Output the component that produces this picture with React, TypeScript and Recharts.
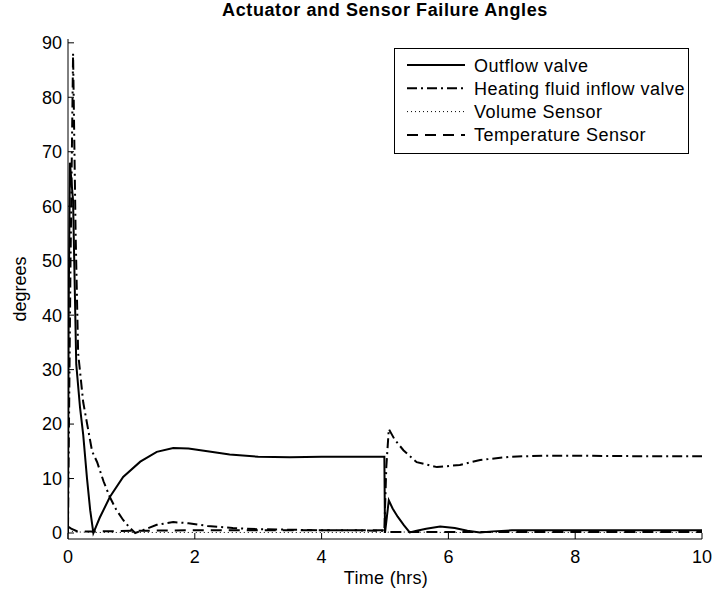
import { LineChart, Line, XAxis, YAxis } from "recharts";

// time (hrs) and angle (degrees) per series
const outflowT = [0, 0.01, 0.03, 0.08, 0.13, 0.19, 0.24, 0.3, 0.35, 0.4, 0.5, 0.66, 0.87, 1.14, 1.4, 1.66, 1.9, 2.2, 2.55, 3.0, 3.5, 4.0, 4.5, 4.99, 5.0, 5.03, 5.06, 5.12, 5.2, 5.3, 5.39, 5.5, 5.65, 5.87, 6.1, 6.3, 6.5, 6.7, 7.0, 7.5, 8, 9, 10];
const outflowV = [0, 40, 68, 61, 31, 23, 18, 10, 4.2, 0, 2.8, 6.6, 10.3, 13.1, 14.9, 15.6, 15.5, 15.0, 14.4, 14.0, 13.9, 14.0, 14.0, 14.0, 0, 3, 6.0, 4.5, 3.0, 1.4, 0.1, 0.4, 0.8, 1.2, 0.9, 0.4, 0.1, 0.3, 0.5, 0.5, 0.5, 0.5, 0.5];

const heatingT = [0, 0.04, 0.08, 0.12, 0.16, 0.24, 0.38, 0.46, 0.56, 0.66, 0.76, 0.87, 0.97, 1.06, 1.2, 1.4, 1.66, 1.9, 2.2, 2.6, 3.0, 3.5, 4.0, 4.5, 4.99, 5.02, 5.06, 5.15, 5.29, 5.5, 5.82, 6.18, 6.5, 6.97, 7.5, 8, 9, 10];
const heatingV = [1, 50, 88, 55, 33, 24, 15, 13, 9.5, 6.6, 4.3, 2.4, 1.0, 0, 0.6, 1.5, 2.0, 1.8, 1.3, 0.9, 0.7, 0.6, 0.5, 0.5, 0.4, 12, 19.1, 17.2, 15.2, 13.0, 12.1, 12.5, 13.4, 14.0, 14.2, 14.2, 14.1, 14.1];

const volumeT = [0, 0.1, 0.5, 1, 2, 3, 4, 5, 5.1, 6, 7, 8, 9, 10];
const volumeV = [0.5, 0.2, 0.1, 0.1, 0.1, 0.1, 0.1, 0.1, 0.2, 0.1, 0.1, 0.1, 0.1, 0.1];

const tempT = [0, 0.05, 0.15, 0.5, 1, 2, 3, 4, 5, 5.05, 5.3, 6, 7, 8, 9, 10];
const tempV = [1.2, 0.8, 0.3, 0.3, 0.4, 0.5, 0.5, 0.5, 0.5, 0.2, 0.2, 0.2, 0.2, 0.2, 0.2, 0.2];

const xTicks = [0, 2, 4, 6, 8, 10];
const yTicks = [0, 10, 20, 30, 40, 50, 60, 70, 80, 90];

const pts = (t: number[], v: number[]) => t.map((x, i) => ({ t: x, v: v[i] }));

const series = [
  { name: "Outflow valve", data: pts(outflowT, outflowV), dash: undefined, w: 2 },
  { name: "Heating fluid inflow valve", data: pts(heatingT, heatingV), dash: "10 4 2 4", w: 2 },
  { name: "Volume Sensor", data: pts(volumeT, volumeV), dash: "1 3", w: 1 },
  { name: "Temperature Sensor", data: pts(tempT, tempV), dash: "11 7", w: 2 },
];

const FONT = '"Liberation Sans", Arial, Helvetica, sans-serif';
const TICK_LEN = 6;

// matlab style ticks: short mark pointing into the plot, label outside
const makeTick = (side: "bottom" | "top" | "left" | "right", gap: number, label: boolean) => (p: any) => {
  const { x, y, payload } = p;
  let line;
  if (side === "bottom") line = { x1: x, x2: x, y1: y - gap, y2: y - gap - TICK_LEN };
  else if (side === "top") line = { x1: x, x2: x, y1: y + gap, y2: y + gap + TICK_LEN };
  else if (side === "left") line = { x1: x + gap, x2: x + gap + TICK_LEN, y1: y, y2: y };
  else line = { x1: x - gap, x2: x - gap - TICK_LEN, y1: y, y2: y };
  return (
    <g>
      <line {...line} stroke="#000" strokeWidth={1} />
      {label && (
        <text x={x} y={y} dy={side === "bottom" ? "0.71em" : "0.355em"} textAnchor={side === "left" ? "end" : "middle"}
          fill="#000" fontSize={18} fontFamily={FONT}>
          {payload.value}
        </text>
      )}
    </g>
  );
};

export default function App() {
  return (
    <div style={{ position: "absolute", left: 0, top: 0, width: 716, height: 594, background: "#fff" }}>
      <LineChart width={716} height={594} data={series[0].data} margin={{ top: 39, right: 14, bottom: 0, left: 0 }}>
        <XAxis xAxisId="b" dataKey="t" type="number" domain={[0, 10]} ticks={xTicks} orientation="bottom" height={55}
          stroke="#000" tickSize={0} tickLine={false} tickMargin={11} tick={makeTick("bottom", 11, true)} allowDataOverflow />
        <XAxis xAxisId="top" dataKey="t" type="number" domain={[0, 10]} ticks={xTicks} orientation="top" height={0}
          stroke="#000" tickSize={0} tickLine={false} tickMargin={2} tick={makeTick("top", 2, false)} />
        <YAxis yAxisId="l" type="number" domain={[-1.1, 90.7]} ticks={yTicks} orientation="left" width={68}
          stroke="#000" tickSize={0} tickLine={false} tickMargin={6} tick={makeTick("left", 6, true)} allowDataOverflow />
        <YAxis yAxisId="r" type="number" domain={[-1.1, 90.7]} ticks={yTicks} orientation="right" width={0}
          stroke="#000" tickSize={0} tickLine={false} tickMargin={2} tick={makeTick("right", 2, false)} />
        {series.map((s) => (
          <Line key={s.name} xAxisId="b" yAxisId="l" data={s.data} dataKey="v" type="linear" stroke="#000"
            strokeWidth={s.w} strokeDasharray={s.dash} dot={false} activeDot={false} isAnimationActive={false} />
        ))}
      </LineChart>
      <svg width={716} height={594} style={{ position: "absolute", left: 0, top: 0, pointerEvents: "none" }}
        fontFamily={FONT}>
        <text x={385} y={16} textAnchor="middle" fontSize={18} fontWeight="bold" letterSpacing={0.6}>Actuator and Sensor Failure Angles</text>
        <text x={386} y={584} textAnchor="middle" fontSize={18} letterSpacing={0.3}>Time (hrs)</text>
        <text x={26} y={289} textAnchor="middle" fontSize={18} transform="rotate(-90 26 289)">degrees</text>
        <rect x={394.5} y={48.5} width={294} height={105} fill="#fff" stroke="#000" />
        {series.map((s, i) => {
          const cy = 65 + i * 23.3;
          return (
            <g key={s.name}>
              <line x1={407} x2={465} y1={cy} y2={cy} stroke="#000" strokeWidth={s.w} strokeDasharray={s.dash} />
              <text x={474} y={cy + 6.5} fontSize={18} letterSpacing={0.5}>{s.name}</text>
            </g>
          );
        })}
      </svg>
    </div>
  );
}
